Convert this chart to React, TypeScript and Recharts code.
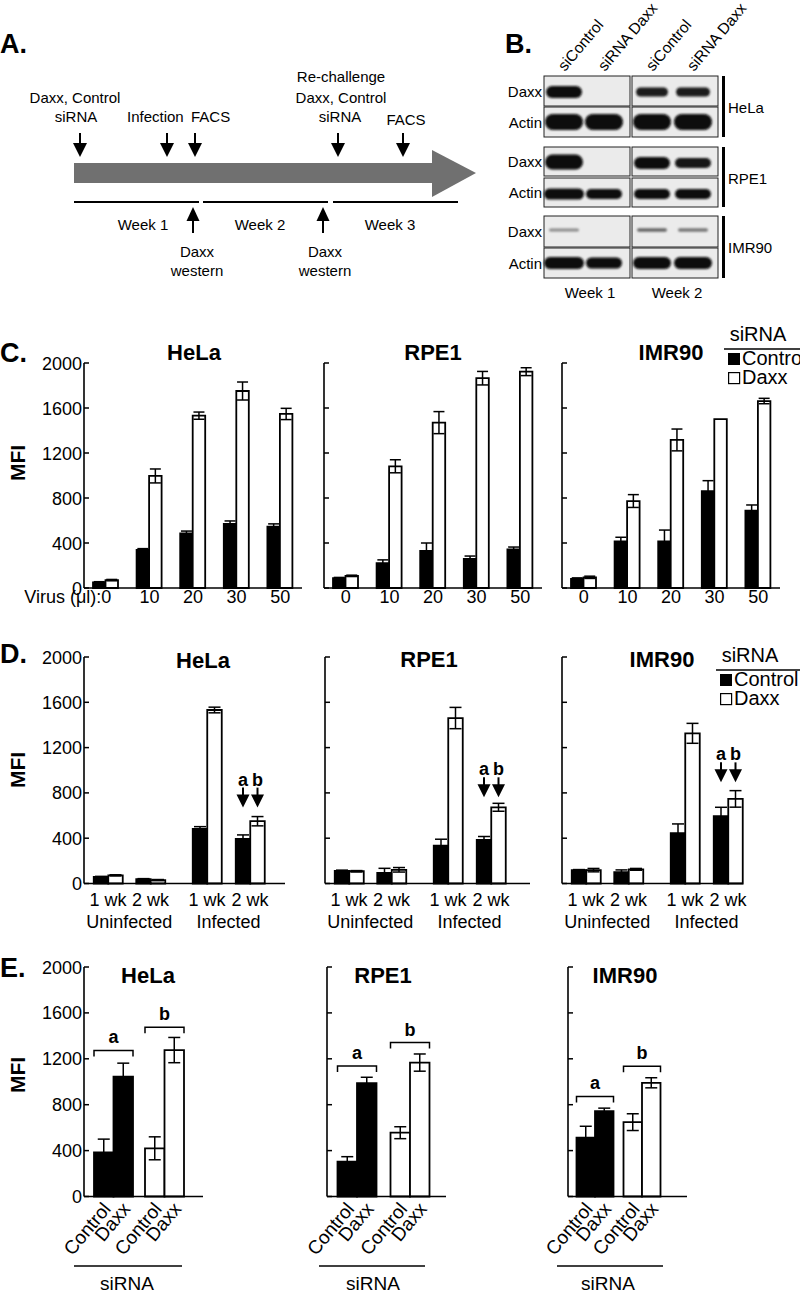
import React from 'react'
import { BarChart, Bar, XAxis, YAxis, ErrorBar, Cell } from 'recharts'

const FONT = '"Liberation Sans", Arial, Helvetica, sans-serif'
const INK = '#000'
const PAPER = '#fff'

const mfiTicks = [0, 400, 800, 1200, 1600, 2000]

// C. MFI against virus dose
const doses = ['0', '10', '20', '30', '50']
const helaDoseCtrl = [50, 338, 486, 569, 545]
const helaDoseCtrlErr = [6, 12, 20, 27, 25]
const helaDoseDaxx = [70, 996, 1532, 1751, 1547]
const helaDoseDaxxErr = [6, 62, 32, 80, 50]
const rpeDoseCtrl = [88, 220, 330, 258, 344]
const rpeDoseCtrlErr = [6, 30, 70, 26, 20]
const rpeDoseDaxx = [108, 1082, 1470, 1865, 1923]
const rpeDoseDaxxErr = [6, 58, 98, 60, 35]
const imrDoseCtrl = [82, 415, 415, 862, 687]
const imrDoseCtrlErr = [8, 36, 100, 92, 51]
const imrDoseDaxx = [95, 773, 1316, 1502, 1662]
const imrDoseDaxxErr = [10, 57, 97, 0, 24]

// D. uninfected / infected, 1 and 2 weeks
const weekLabels = ['1 wk', '2 wk', '1 wk', '2 wk']
const infectionLabels = ['Uninfected', 'Infected']
const helaWeekCtrl = [58, 38, 482, 394]
const helaWeekCtrlErr = [5, 5, 20, 35]
const helaWeekDaxx = [72, 30, 1532, 550]
const helaWeekDaxxErr = [5, 5, 25, 41]
const rpeWeekCtrl = [112, 94, 335, 385]
const rpeWeekCtrlErr = [6, 40, 56, 30]
const rpeWeekDaxx = [108, 121, 1461, 673]
const rpeWeekDaxxErr = [6, 20, 94, 35]
const imrWeekCtrl = [118, 100, 444, 594]
const imrWeekCtrlErr = [5, 20, 82, 79]
const imrWeekDaxx = [118, 125, 1326, 747]
const imrWeekDaxxErr = [15, 8, 88, 73]
const arrowTips = [670, 761, 893] // HeLa, RPE1, IMR90

// E. re-challenge
const sets = ['a', 'b']
const siLabels = ['Control', 'Daxx']
const helaSetCtrl = [385, 420]
const helaSetCtrlErr = [115, 100]
const helaSetDaxx = [1045, 1276]
const helaSetDaxxErr = [117, 110]
const rpeSetCtrl = [303, 556]
const rpeSetCtrlErr = [44, 52]
const rpeSetDaxx = [987, 1167]
const rpeSetDaxxErr = [52, 75]
const imrSetCtrl = [512, 648]
const imrSetCtrlErr = [100, 73]
const imrSetDaxx = [744, 991]
const imrSetDaxxErr = [26, 44]
const helaBrackets = [1273, 1476]
const rpeBrackets = [1138, 1341]
const imrBrackets = [872, 1134]

type Row = { name: string; x: number; c: number; ce: number; d: number; de: number }

function makeRows(names: string[], c: number[], ce: number[], d: number[], de: number[], xs?: number[]): Row[] {
  return names.map((name, i) => ({ name, x: xs ? xs[i] : i, c: c[i], ce: ce[i], d: d[i], de: de[i] }))
}

const axisStyle = { stroke: INK, strokeWidth: 1.6 }

function MfiTick(p: any) {
  const { y, payload, show } = p
  return (
    <g>
      <line x1={60} x2={65} y1={y} y2={y} stroke={INK} strokeWidth={1.5} />
      {show && (
        <text x={58} y={y + 6.5} textAnchor="end" fontSize={18} fill={INK}>
          {payload.value}
        </text>
      )}
    </g>
  )
}

type PanelProps = {
  left: number
  top: number
  w: number
  h: number
  axisH: number
  rows: Row[]
  numeric?: boolean
  barSize: number
  errW: number
  yLabels: boolean
  tick: (p: any) => React.ReactElement
  fills?: string[]
  label?: (p: any) => React.ReactElement | null
}

function Panel(props: PanelProps) {
  const { left, top, w, h, axisH, rows, numeric, barSize, errW, yLabels, tick, fills, label } = props
  return (
    <div style={{ position: 'absolute', left: left - 60, top: top - 10 }}>
      <BarChart
        width={w + 90}
        height={h + 10 + axisH}
        data={rows}
        margin={{ top: 10, right: 30, bottom: 0, left: 0 }}
        barGap={0}
      >
        {numeric ? (
          <XAxis
            dataKey="x"
            type="number"
            domain={[0, w]}
            ticks={rows.map(r => r.x)}
            interval={0}
            height={axisH}
            axisLine={axisStyle}
            tickLine={false}
            tick={tick}
          />
        ) : (
          <XAxis dataKey="name" interval={0} height={axisH} axisLine={axisStyle} tickLine={false} tick={tick} />
        )}
        <YAxis
          width={60}
          domain={[0, 2000]}
          ticks={mfiTicks}
          interval={0}
          axisLine={axisStyle}
          tickLine={false}
          tick={(p: any) => <MfiTick {...p} show={yLabels} />}
        />
        <Bar dataKey="c" barSize={barSize} fill={INK} stroke={INK} strokeWidth={1.8} isAnimationActive={false}>
          {fills && rows.map((r, i) => <Cell key={`c-${i}`} fill={fills[i]} />)}
          <ErrorBar dataKey="ce" width={errW} stroke={INK} strokeWidth={1.5} />
        </Bar>
        <Bar
          dataKey="d"
          barSize={barSize}
          fill={PAPER}
          stroke={INK}
          strokeWidth={1.8}
          isAnimationActive={false}
          label={label}
        >
          {fills && rows.map((r, i) => <Cell key={`d-${i}`} fill={fills[i]} />)}
          <ErrorBar dataKey="de" width={errW} stroke={INK} strokeWidth={1.5} />
        </Bar>
      </BarChart>
    </div>
  )
}

// x tick renderers
const doseTick = (axisY: number, withUnit: boolean) => (p: any) => {
  const v = p.payload.value
  if (withUnit && p.index === 0) {
    return (
      <text x={p.x + 5.5} y={axisY + 15} textAnchor="end" fontSize={18} fill={INK}>
        {`Virus (\u03bcl):${v}`}
      </text>
    )
  }
  return (
    <text x={p.x} y={axisY + 15} textAnchor="middle" fontSize={18} fill={INK}>
      {v}
    </text>
  )
}

const weekTick = (axisY: number, xs: number[]) => (p: any) => {
  const i = p.index
  return (
    <g>
      <text x={p.x} y={axisY + 22} textAnchor="middle" fontSize={18} fill={INK}>
        {weekLabels[i]}
      </text>
      {i % 2 === 0 && (
        <text x={p.x + (xs[i + 1] - xs[i]) / 2} y={axisY + 44.5} textAnchor="middle" fontSize={18} fill={INK}>
          {infectionLabels[i / 2]}
        </text>
      )}
    </g>
  )
}

const siTick = (axisY: number, bs: number) => (p: any) => (
  <g>
    {siLabels.map((lab, k) => {
      const ax = p.x + (k === 0 ? -bs / 2 : bs / 2) + 8
      const ay = axisY + 13
      return (
        <text key={lab} x={ax} y={ay} textAnchor="end" fontSize={19} fill={INK} transform={`rotate(-50 ${ax} ${ay})`}>
          {lab}
        </text>
      )
    })}
  </g>
)

// annotations that sit on the Daxx bars
const arrowLabel = (tip: number, values: number[]) => (p: any) => {
  const vb = p.viewBox ?? p
  if (p.index !== values.length - 1 || vb == null) return null
  const base = vb.y + vb.height
  const ty = base - (tip * vb.height) / values[p.index]
  const xs = [vb.x - vb.width / 2, vb.x + vb.width / 2]
  return (
    <g>
      {xs.map((cx, k) => (
        <g key={k}>
          <line x1={cx} x2={cx} y1={ty - 20} y2={ty - 11} stroke={INK} strokeWidth={2} />
          <polygon points={`${cx - 6.5},${ty - 13} ${cx + 6.5},${ty - 13} ${cx},${ty}`} fill={INK} />
          <text x={cx} y={ty - 22} textAnchor="middle" fontSize={18} fontWeight="bold" fill={INK}>
            {sets[k]}
          </text>
        </g>
      ))}
    </g>
  )
}

const bracketLabel = (marks: number[], values: number[]) => (p: any) => {
  const vb = p.viewBox ?? p
  const i = p.index
  if (vb == null || i == null) return null
  const base = vb.y + vb.height
  const by = base - (marks[i] * vb.height) / values[i]
  const l = vb.x - vb.width
  const r = vb.x + vb.width
  return (
    <g>
      <path d={`M${l},${by + 6}V${by}H${r}V${by + 6}`} fill="none" stroke={INK} strokeWidth={1.5} />
      <text x={(l + r) / 2} y={by - 7} textAnchor="middle" fontSize={18} fontWeight="bold" fill={INK}>
        {sets[i]}
      </text>
    </g>
  )
}

function Legend({ x, y }: { x: number; y: number }) {
  return (
    <g fontSize={20}>
      <text x={x + 30} y={y} textAnchor="middle">siRNA</text>
      <line x1={x - 4} x2={800} y1={y + 8} y2={y + 8} stroke={INK} strokeWidth={1.5} />
      <rect x={x} y={y + 12} width={12} height={12} fill={INK} />
      <text x={x + 14} y={y + 24}>Control</text>
      <rect x={x + 0.6} y={y + 31.6} width={11} height={11} fill={PAPER} stroke={INK} strokeWidth={1.2} />
      <text x={x + 14} y={y + 43}>Daxx</text>
    </g>
  )
}

function DownArrow({ x, top, tip }: { x: number; top: number; tip: number }) {
  return (
    <g>
      <line x1={x} x2={x} y1={top} y2={tip - 12} stroke={INK} strokeWidth={2} />
      <polygon points={`${x - 7},${tip - 14} ${x + 7},${tip - 14} ${x},${tip}`} fill={INK} />
    </g>
  )
}

function UpArrow({ x, tip, bottom }: { x: number; tip: number; bottom: number }) {
  return (
    <g>
      <line x1={x} x2={x} y1={tip + 12} y2={bottom} stroke={INK} strokeWidth={2} />
      <polygon points={`${x - 6.5},${tip + 14} ${x + 6.5},${tip + 14} ${x},${tip}`} fill={INK} />
    </g>
  )
}

const lanes = [564, 604, 652, 693]
const blotRows = [
  { y: 76, h: 30, label: 'Daxx' },
  { y: 107, h: 30, label: 'Actin' },
  { y: 147, h: 29, label: 'Daxx' },
  { y: 178, h: 29, label: 'Actin' },
  { y: 216, h: 31, label: 'Daxx' },
  { y: 248, h: 30, label: 'Actin' },
]
// lane, centre y, width, height, colour
const bands: [number, number, number, number, string][] = [
  [0, 92, 36, 12, '#111'], [2, 92, 32, 9, '#1a1a1a'], [3, 92, 34, 9, '#1a1a1a'],
  [0, 122, 38, 16, '#080808'], [1, 122, 38, 16, '#080808'], [2, 122, 38, 16, '#080808'], [3, 122, 38, 16, '#080808'],
  [0, 162, 38, 15, '#0d0d0d'], [2, 163, 36, 12, '#111'], [3, 163, 36, 10, '#151515'],
  [0, 194, 40, 11, '#111'], [1, 194, 36, 10, '#111'], [2, 194, 36, 10, '#111'], [3, 194, 36, 10, '#111'],
  [0, 230, 30, 3, '#8a8a8a'], [2, 230, 30, 3.5, '#666'], [3, 230, 30, 3.5, '#777'],
  [0, 263, 40, 12, '#0a0a0a'], [1, 263, 36, 11, '#0a0a0a'], [2, 263, 38, 12, '#0a0a0a'], [3, 263, 38, 12, '#0a0a0a'],
]

function Overlay() {
  return (
    <svg width={800} height={1291} style={{ position: 'absolute', left: 0, top: 0, pointerEvents: 'none' }} fontFamily={FONT}>
      <defs>
        <filter id="soft" x="-20%" y="-60%" width="140%" height="220%">
          <feGaussianBlur stdDeviation="1.3" />
        </filter>
      </defs>
      {/* panel letters */}
      <g fontSize={27} fontWeight="bold">
        <text x={0} y={53}>A.</text>
        <text x={505} y={53}>B.</text>
        <text x={0} y={362}>C.</text>
        <text x={0} y={663}>D.</text>
        <text x={0} y={977}>E.</text>
      </g>

      {/* A: timeline */}
      <g fontSize={15}>
        <rect x={74} y={163} width={359} height={20} fill="#707070" />
        <polygon points="432,150 476,173 432,197" fill="#707070" />
        {[80, 167, 195, 338, 403].map(x => (
          <DownArrow key={x} x={x} top={133} tip={157} />
        ))}
        <UpArrow x={193} tip={207} bottom={233} />
        <UpArrow x={323} tip={207} bottom={233} />
        <line x1={74} x2={199} y1={202} y2={202} stroke={INK} strokeWidth={2} />
        <line x1={203} x2={328} y1={202} y2={202} stroke={INK} strokeWidth={2} />
        <line x1={333} x2={458} y1={202} y2={202} stroke={INK} strokeWidth={2} />
        <text x={75} y={103} textAnchor="middle">Daxx, Control</text>
        <text x={76} y={122} textAnchor="middle">siRNA</text>
        <text x={127} y={122}>Infection</text>
        <text x={191} y={122}>FACS</text>
        <text x={341} y={82} textAnchor="middle">Re-challenge</text>
        <text x={341} y={103} textAnchor="middle">Daxx, Control</text>
        <text x={340} y={122} textAnchor="middle">siRNA</text>
        <text x={406} y={125} textAnchor="middle">FACS</text>
        <text x={143} y={230} textAnchor="middle">Week 1</text>
        <text x={260} y={230} textAnchor="middle">Week 2</text>
        <text x={390} y={230} textAnchor="middle">Week 3</text>
        <text x={197} y={257} textAnchor="middle">Daxx</text>
        <text x={197} y={276} textAnchor="middle">western</text>
        <text x={325} y={257} textAnchor="middle">Daxx</text>
        <text x={325} y={276} textAnchor="middle">western</text>
      </g>

      {/* B: western blots */}
      <g fontSize={15.5}>
        {['siControl', 'siRNA Daxx', 'siControl', 'siRNA Daxx'].map((t, i) => (
          <text key={i} x={lanes[i] + 1} y={72} transform={`rotate(-50 ${lanes[i] + 1} 72)`}>
            {t}
          </text>
        ))}
      </g>
      <g fontSize={15}>
        {blotRows.map((r, i) => (
          <g key={i}>
            <rect x={544} y={r.y} width={86} height={r.h} fill="#ebebeb" stroke="#222" strokeWidth={1} />
            <rect x={632} y={r.y} width={86} height={r.h} fill="#ebebeb" stroke="#222" strokeWidth={1} />
            <text x={542} y={r.y + r.h / 2 + 5.5} textAnchor="end">{r.label}</text>
          </g>
        ))}
        <g filter="url(#soft)">
          {bands.map(([l, cy, w, h, col], i) => (
            <rect key={i} x={lanes[l] - w / 2} y={cy - h / 2} width={w} height={h} rx={h / 2} fill={col} />
          ))}
        </g>
        <rect x={722} y={76} width={3} height={61} fill={INK} />
        <rect x={722} y={147} width={3} height={60} fill={INK} />
        <rect x={722} y={216} width={3} height={62} fill={INK} />
        <text x={728} y={113}>HeLa</text>
        <text x={728} y={184}>RPE1</text>
        <text x={728} y={253}>IMR90</text>
        <text x={590} y={298} textAnchor="middle">Week 1</text>
        <text x={677} y={298} textAnchor="middle">Week 2</text>
      </g>

      {/* chart titles */}
      <g fontSize={22} fontWeight="bold" textAnchor="middle">
        <text x={194} y={360}>HeLa</text>
        <text x={433} y={360}>RPE1</text>
        <text x={671} y={360}>IMR90</text>
        <text x={203} y={668}>HeLa</text>
        <text x={429} y={667}>RPE1</text>
        <text x={662} y={667}>IMR90</text>
        <text x={148} y={983}>HeLa</text>
        <text x={383} y={983}>RPE1</text>
        <text x={625} y={983}>IMR90</text>
      </g>
      <g fontSize={21} fontWeight="bold" textAnchor="middle">
        <text transform="translate(24.5,463) rotate(-90)">MFI</text>
        <text transform="translate(24.5,770) rotate(-90)">MFI</text>
        <text transform="translate(24.5,1075) rotate(-90)">MFI</text>
      </g>

      <Legend x={728} y={341} />
      <Legend x={720} y={662} />

      {/* E: siRNA underline */}
      <g fontSize={19} textAnchor="middle">
        <line x1={74} x2={182} y1={1266} y2={1266} stroke={INK} strokeWidth={1.5} />
        <text x={127} y={1290}>siRNA</text>
        <line x1={319} x2={425} y1={1266} y2={1266} stroke={INK} strokeWidth={1.5} />
        <text x={373} y={1290}>siRNA</text>
        <line x1={557} x2={663} y1={1266} y2={1266} stroke={INK} strokeWidth={1.5} />
        <text x={608} y={1290}>siRNA</text>
      </g>
    </svg>
  )
}

const C_TOP = 363
const C_H = 225
const D_TOP = 656.5
const D_H = 226.5
const D_POS = [24, 66.5, 123, 166]
const E_TOP = 967
const E_H = 229.5
const setFills = [INK, PAPER]

export default function App() {
  return (
    <div
      style={{
        position: 'absolute',
        left: 0,
        top: 0,
        width: 800,
        height: 1291,
        background: PAPER,
        fontFamily: FONT,
        overflow: 'hidden',
      }}
    >
      {/* C */}
      <Panel left={84} top={C_TOP} w={218} h={C_H} axisH={30} barSize={12.5} errW={5.5} yLabels
        rows={makeRows(doses, helaDoseCtrl, helaDoseCtrlErr, helaDoseDaxx, helaDoseDaxxErr)}
        tick={doseTick(10 + C_H, true)} />
      <Panel left={324} top={C_TOP} w={218} h={C_H} axisH={30} barSize={12.5} errW={5.5} yLabels={false}
        rows={makeRows(doses, rpeDoseCtrl, rpeDoseCtrlErr, rpeDoseDaxx, rpeDoseDaxxErr)}
        tick={doseTick(10 + C_H, false)} />
      <Panel left={562} top={C_TOP} w={218} h={C_H} axisH={30} barSize={12.5} errW={5.5} yLabels={false}
        rows={makeRows(doses, imrDoseCtrl, imrDoseCtrlErr, imrDoseDaxx, imrDoseDaxxErr)}
        tick={doseTick(10 + C_H, false)} />

      {/* D */}
      <Panel left={84} top={D_TOP} w={201} h={D_H} axisH={55} numeric barSize={14.5} errW={6} yLabels
        rows={makeRows(weekLabels, helaWeekCtrl, helaWeekCtrlErr, helaWeekDaxx, helaWeekDaxxErr, D_POS)}
        tick={weekTick(10 + D_H, D_POS)} label={arrowLabel(arrowTips[0], helaWeekDaxx)} />
      <Panel left={325} top={D_TOP} w={205} h={D_H} axisH={55} numeric barSize={14.5} errW={6} yLabels={false}
        rows={makeRows(weekLabels, rpeWeekCtrl, rpeWeekCtrlErr, rpeWeekDaxx, rpeWeekDaxxErr, D_POS)}
        tick={weekTick(10 + D_H, D_POS)} label={arrowLabel(arrowTips[1], rpeWeekDaxx)} />
      <Panel left={562} top={D_TOP} w={181} h={D_H} axisH={55} numeric barSize={14.5} errW={6} yLabels={false}
        rows={makeRows(weekLabels, imrWeekCtrl, imrWeekCtrlErr, imrWeekDaxx, imrWeekDaxxErr, D_POS)}
        tick={weekTick(10 + D_H, D_POS)} label={arrowLabel(arrowTips[2], imrWeekDaxx)} />

      {/* E */}
      <Panel left={84} top={E_TOP} w={119} h={E_H} axisH={70} numeric barSize={19.5} errW={6} yLabels
        rows={makeRows(sets, helaSetCtrl, helaSetCtrlErr, helaSetDaxx, helaSetDaxxErr, [29.5, 80.5])}
        fills={setFills} tick={siTick(10 + E_H, 19.5)} label={bracketLabel(helaBrackets, helaSetDaxx)} />
      <Panel left={327} top={E_TOP} w={119} h={E_H} axisH={70} numeric barSize={19.5} errW={6} yLabels={false}
        rows={makeRows(sets, rpeSetCtrl, rpeSetCtrlErr, rpeSetDaxx, rpeSetDaxxErr, [30, 83])}
        fills={setFills} tick={siTick(10 + E_H, 19.5)} label={bracketLabel(rpeBrackets, rpeSetDaxx)} />
      <Panel left={568} top={E_TOP} w={119} h={E_H} axisH={70} numeric barSize={18.5} errW={6} yLabels={false}
        rows={makeRows(sets, imrSetCtrl, imrSetCtrlErr, imrSetDaxx, imrSetDaxxErr, [27, 74])}
        fills={setFills} tick={siTick(10 + E_H, 18.5)} label={bracketLabel(imrBrackets, imrSetDaxx)} />

      <Overlay />
    </div>
  )
}
